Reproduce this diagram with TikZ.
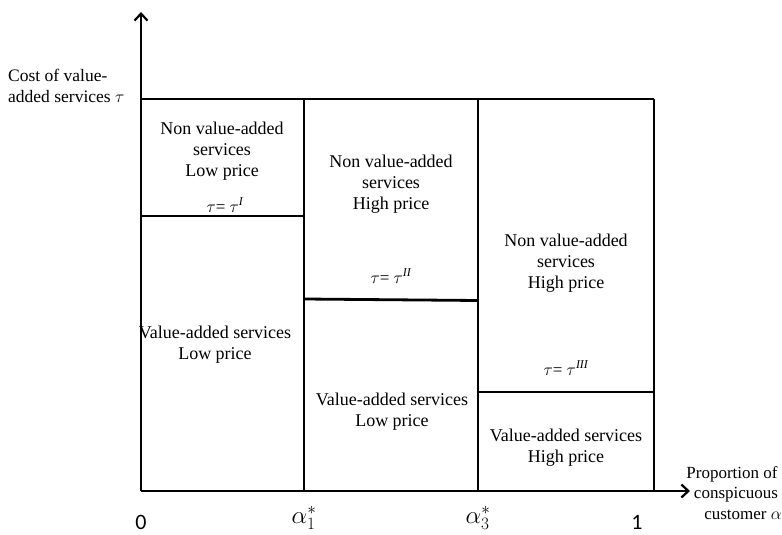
\documentclass[tikz,border=0pt]{standalone}
\usepackage{fontspec}
\setmainfont{Liberation Serif}
\newfontfamily\calfont{Carlito}
\usetikzlibrary{arrows.meta}
\begin{document}
\begin{tikzpicture}[x=1pt,y=-1pt,
  ln/.style={line width=2.8pt},
  ax/.style={line width=2.8pt,-{Straight Barb[length=7pt,width=13pt,line width=2.2pt]}},
  lbl/.style={font=\fontsize{18}{21}\selectfont,align=center,inner sep=0pt},
  tl/.style={font=\fontsize{17}{18}\selectfont,inner sep=0pt},
  tick/.style={font=\fontsize{26}{28}\selectfont,inner sep=0pt},
  num/.style={font=\calfont\fontsize{22}{24}\selectfont,inner sep=0pt}]
\useasboundingbox (0,0) rectangle (782,535);
% axes
\coordinate (O) at (141,491);
\coordinate (ytop) at (141,12);
\coordinate (xend) at (690,491);
\draw[ax] (O) -- (ytop);
\draw[ax] (O) -- (xend);
% frame
\coordinate (tl0) at (141,99);
\coordinate (tr) at (654,99);
\coordinate (a1t) at (304,99);
\coordinate (a1b) at (304,491);
\coordinate (a3t) at (478,99);
\coordinate (a3b) at (478,491);
\coordinate (r1b) at (654,491);
\draw[ln] (tl0) -- (tr);
\draw[ln] (a1t) -- (a1b);
\draw[ln] (a3t) -- (a3b);
\draw[ln] (tr) -- (r1b);
% thresholds
\coordinate (h1l) at (141,216);
\coordinate (h1r) at (304,216);
\coordinate (h2l) at (304,299);
\coordinate (h2r) at (478,300.5);
\coordinate (h3l) at (478,392);
\coordinate (h3r) at (654,392);
\draw[ln] (h1l) -- (h1r);
\draw[ln] (h2l) -- (h2r);
\draw[ln] (h3l) -- (h3r);
% region texts
\node[lbl] (c1top) at (222,151) {Non value-added\\services\\Low price};
\node[tl] (t1) at (225,205) {$\tau$= $\tau^{\mathit{I}}$};
\node[lbl] (c1bot) at (215,344.5) {Value-added services\\Low price};
\node[lbl] (c2top) at (391,184) {Non value-added\\services\\High price};
\node[tl] (t2) at (391,276) {$\tau$= $\tau^{\mathit{II}}$};
\node[lbl] (c2bot) at (392,411.5) {Value-added services\\Low price};
\node[lbl] (c3top) at (566,263) {Non value-added\\services\\High price};
\node[tl] (t3) at (566,368) {$\tau$= $\tau^{\mathit{III}}$};
\node[lbl] (c3bot) at (566,447.5) {Value-added services\\High price};
% y label
\node[font=\fontsize{17.5}{21}\selectfont,align=left,inner sep=0pt,anchor=west] (ylab) at (8,85.5) {Cost of value-\\added services $\tau$};
% x label
\node[font=\fontsize{17}{20.5}\selectfont,inner sep=0pt] (xl1) at (732,474) {Proportion of};
\node[font=\fontsize{17}{20.5}\selectfont,inner sep=0pt] (xl2) at (736,495) {conspicuous};
\node[font=\fontsize{17}{20.5}\selectfont,inner sep=0pt] (xl3) at (743,515) {customer $\alpha$};
% ticks
\node[num] (k0) at (141,522) {0};
\node[tick] (k1) at (304,518) {$\alpha_1^*$};
\node[tick] (k3) at (478,518) {$\alpha_3^*$};
\node[num] (kk) at (637,522) {1};
\end{tikzpicture}
\end{document}
